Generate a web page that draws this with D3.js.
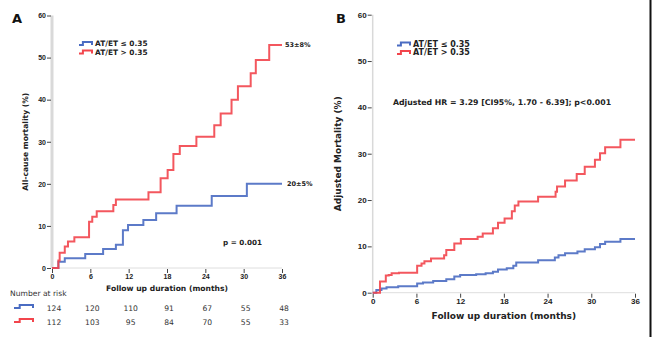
<!DOCTYPE html>
<html>
<head>
<meta charset="utf-8">
<script src="https://cdn.jsdelivr.net/npm/d3@7"></script>
<style>
  body { margin: 0; background: #fff; }
  svg { display: block; font-family: "DejaVu Sans", sans-serif; }
  .tick text { fill: #222; }
</style>
</head>
<body>
<script>
// follow-up months where the curves are labelled / ticked
var months = [0, 6, 12, 18, 24, 30, 36];
var yTicks = [0, 10, 20, 30, 40, 50, 60];
var groups = ["AT/ET \u2264 0.35", "AT/ET > 0.35"];
var colors = ["#4a6cc2", "#f2454c"];

// panel A: Kaplan-Meier all-cause mortality, [month, %]
var lowA = [[0,0],[1.0,1.5],[2.0,2.3],[5.2,3.3],[8.0,4.5],[10.0,5.5],[11.1,9.0],[11.9,10.2],
  [14.3,11.4],[16.3,13.0],[19.5,14.8],[25.0,17.1],[30.5,20],[36,20]];
var highA = [[0,0],[1.0,1.8],[1.2,3.6],[2.0,5.1],[2.5,6.3],[3.5,7.3],[5.8,11.0],[6.3,12.2],
  [7.0,13.5],[9.6,15.0],[10.0,16.3],[15.1,18.0],[17.0,21.3],[18.1,23.3],[19.0,27.1],[20.0,29.0],
  [22.6,31.2],[25.4,33.9],[26.4,36.7],[28.1,40.0],[29.1,43.2],[31.1,46.3],[31.9,49.4],[34.0,53],[36,53]];
var riskLow = [124, 120, 110, 91, 67, 55, 48];
var riskHigh = [112, 103, 95, 84, 70, 55, 33];

// panel B: adjusted mortality, [month, %]
var lowB = [[0,0],[0.5,0.6],[1.2,0.9],[1.9,1.2],[3.5,1.4],[6.1,2.0],[6.9,2.2],[8.3,2.5],[10.1,2.9],
  [11.2,3.5],[12.0,3.8],[14.2,4.0],[15.5,4.2],[16.5,4.5],[17.2,5.0],[18.4,5.3],[19.3,5.8],[19.7,6.5],
  [22.7,7.0],[25.0,7.6],[25.5,8.1],[26.4,8.5],[28.1,8.9],[29.1,9.4],[30.5,9.8],[31.2,10.5],
  [31.9,11.0],[34.0,11.6],[36,11.6]];
var highB = [[0,0],[1.0,2.4],[1.8,3.7],[2.2,3.8],[2.6,4.2],[3.6,4.3],[6.1,5.8],[6.7,6.3],[7.1,6.8],
  [8.0,7.4],[9.8,8.1],[10.1,9.2],[11.2,10.6],[12.1,11.6],[14.4,12.1],[15.1,12.8],[16.5,13.9],
  [17.2,15.1],[18.1,16.0],[19.1,17.6],[19.5,18.8],[20.0,19.7],[22.7,20.7],[25.1,21.8],[25.3,22.9],
  [26.4,24.2],[28.0,25.6],[29.1,27.2],[30.5,28.7],[31.2,30.1],[31.9,31.4],[34.0,33.0],[36,33.0]];

var svg = d3.select("body").append("svg").attr("width", 653).attr("height", 337);

// small step glyph used in legends and the risk table
var stepIcon = function(g, x, y, w, color) {
  g.append("path")
    .attr("d", "M" + x + "," + (y + 3) + "h" + (w * 0.3) + "v-3h" + (w * 0.7) + "v3")
    .attr("fill", "none").attr("stroke", color).attr("stroke-width", 2);
};

var drawPanel = function(opt) {
  var x = d3.scaleLinear().domain([0, 36]).range([opt.x0, opt.x1]);
  var y = d3.scaleLinear().domain([0, 60]).range([opt.y0, opt.y1]);
  var g = svg.append("g");

  // axis lines (light grey) with dark tick marks
  g.append("line").attr("x1", x(0)).attr("x2", x(0)).attr("y1", y(0)).attr("y2", y(60))
    .attr("stroke", "#d9d9d9").attr("stroke-width", opt.axisW);
  g.append("line").attr("x1", x(0)).attr("x2", x(36)).attr("y1", y(0)).attr("y2", y(0))
    .attr("stroke", "#dedede").attr("stroke-width", 1);

  var ya = g.append("g").attr("transform", "translate(" + (x(0) - 1) + ",0)")
    .call(d3.axisLeft(y).tickValues(yTicks).tickSize(4).tickPadding(1));
  ya.select(".domain").remove();
  ya.selectAll("line").attr("stroke", "#444");
  ya.selectAll("text").attr("font-size", opt.tickFont).attr("font-weight", "bold");

  var xa = g.append("g").attr("transform", "translate(0," + (y(0) + 1) + ")")
    .call(d3.axisBottom(x).tickValues(months).tickSize(4).tickPadding(1));
  xa.select(".domain").remove();
  xa.selectAll("line").attr("stroke", "#444");
  xa.selectAll("text").attr("font-size", opt.tickFont).attr("font-weight", "bold");

  g.append("text").attr("x", (x(0) + x(36)) / 2).attr("y", opt.xTitleY)
    .attr("text-anchor", "middle").attr("font-size", opt.titleFont).attr("font-weight", "bold")
    .attr("fill", "#222").text("Follow up duration (months)");

  g.append("text")
    .attr("transform", "translate(" + opt.yTitleX + "," + (y(0) + y(60)) / 2 + ") rotate(-90)")
    .attr("text-anchor", "middle").attr("font-size", opt.titleFont).attr("font-weight", "bold")
    .attr("fill", "#222").text(opt.yTitle);

  g.append("text").attr("x", opt.letterX).attr("y", 23).attr("font-size", 13)
    .attr("font-weight", "bold").attr("fill", "#111").text(opt.letter);

  var line = d3.line().x(function(d) { return x(d[0]); }).y(function(d) { return y(d[1]); })
    .curve(d3.curveStepAfter);
  [opt.low, opt.high].forEach(function(s, i) {
    g.append("path").datum(s).attr("d", line).attr("fill", "none")
      .attr("stroke", colors[i]).attr("stroke-width", 2).attr("opacity", 0.9);
  });

  groups.forEach(function(name, i) {
    var ly = opt.legendY + i * 8.5;
    stepIcon(g, opt.legendX, ly - 4, 13, colors[i]);
    g.append("text").attr("x", opt.legendX + 16).attr("y", ly).attr("font-size", opt.legendFont)
      .attr("font-weight", "bold").attr("fill", "#222").text(name);
  });
  return { x: x, y: y, g: g };
};

var A = drawPanel({
  x0: 52, x1: 282, y0: 268, y1: 15.5, axisW: 3, tickFont: 7, titleFont: 7.6,
  xTitleY: 291, yTitleX: 28, yTitle: "All-cause mortality (%)", letter: "A", letterX: 12,
  low: lowA, high: highA, legendX: 79, legendY: 46, legendFont: 7.4
});
var B = drawPanel({
  x0: 372.7, x1: 635, y0: 292.7, y1: 14.7, axisW: 1.5, tickFont: 8, titleFont: 9,
  xTitleY: 319, yTitleX: 341, yTitle: "Adjusted Mortality (%)", letter: "B", letterX: 336,
  low: lowB, high: highB, legendX: 397, legendY: 46.5, legendFont: 8
});

// end-of-follow-up labels and test result on panel A
A.g.append("text").attr("x", A.x(36) + 3).attr("y", A.y(highA[highA.length - 1][1]) + 2.5)
  .attr("font-size", 6.5).attr("font-weight", "bold").attr("fill", "#222").text("53\u00b18%");
A.g.append("text").attr("x", A.x(36) + 5).attr("y", A.y(lowA[lowA.length - 1][1]) + 2.5)
  .attr("font-size", 6.5).attr("font-weight", "bold").attr("fill", "#222").text("20\u00b15%");
A.g.append("text").attr("x", 223).attr("y", 245).attr("font-size", 7.2)
  .attr("font-weight", "bold").attr("fill", "#222").text("p = 0.001");

B.g.append("text").attr("x", 393).attr("y", 105).attr("font-size", 7.8)
  .attr("font-weight", "bold").attr("fill", "#222")
  .text("Adjusted HR = 3.29 [CI95%, 1.70 - 6.39]; p<0.001");

// number at risk table under panel A
A.g.append("text").attr("x", 10).attr("y", 296).attr("font-size", 7.6).attr("fill", "#333")
  .text("Number at risk");
[riskLow, riskHigh].forEach(function(row, i) {
  var ry = 311 + i * 14;
  stepIcon(A.g, 14, ry - 6, 19, colors[i]);
  A.g.selectAll(null).data(row).enter().append("text")
    .attr("x", function(d, j) { return A.x(months[j]) + 2; })
    .attr("y", ry).attr("text-anchor", "middle").attr("font-size", 7.6).attr("fill", "#333")
    .text(function(d) { return d; });
});

// frame edge on the right
svg.append("line").attr("x1", 650.5).attr("x2", 650.5).attr("y1", 0).attr("y2", 337)
  .attr("stroke", "#111").attr("stroke-width", 2);
</script>
</body>
</html>
